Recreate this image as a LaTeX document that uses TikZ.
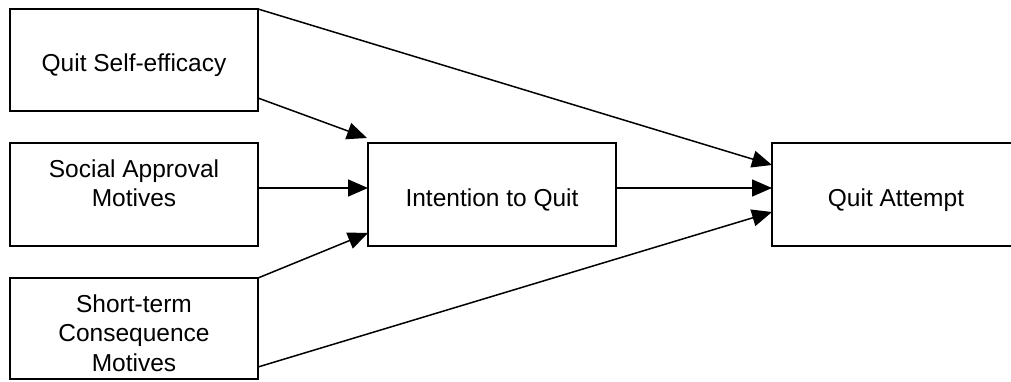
\documentclass[tikz,border=0pt]{standalone}
\usepackage{fontspec}
\setmainfont{Liberation Sans}
\usetikzlibrary{arrows.meta,calc}
\begin{document}
\begin{tikzpicture}[x=1pt,y=-1pt,
  box/.style={draw, line width=1.5pt, inner sep=0pt, outer sep=0pt, minimum width=248pt},
  lbl/.style={font=\fontsize{24.5}{29.5}\selectfont, align=center, inner sep=0pt},
  conn/.style={line width=1.5pt, -{Triangle[length=20pt,width=17pt]}}]
\useasboundingbox (0,0) rectangle (1011,382);
\fill[white] (0,0) rectangle (1011,382);
% boxes
\node[box, minimum height=102pt] (qse) at (134,60) {};
\node[box, minimum height=103pt] (sa) at (134,194.5) {};
\node[box, minimum height=101pt] (st) at (134,328.5) {};
\node[box, minimum height=103pt] (it) at (492,194.5) {};
\node[box, minimum height=103pt] (qa) at (896,194.5) {};
% texts
\node[lbl, anchor=base] (qset) at (134,72) {Quit Self-efficacy};
\node[lbl] (sat) at (134,183) {Social Approval\\Motives};
\node[lbl] (stt) at (134,333) {Short-term\\Consequence\\Motives};
\node[lbl, anchor=base] (itt) at (492,207) {Intention to Quit};
\node[lbl, anchor=base] (qat) at (896,207) {Quit Attempt};
% connectors
\draw[conn] (qse.north east) -- ($(qa.west)+(0,-29.5)$);
\draw[conn] ($(qse.south east)+(0,-13)$) -- ($(it.north west)+(-1,-5)$);
\draw[conn] ($(sa.east)+(0,-6.5)$) -- ($(it.west)+(0,-6.5)$);
\draw[conn] (st.north east) -- ($(it.south west)+(0,-13)$);
\draw[conn] ($(it.east)+(0,-6.5)$) -- ($(qa.west)+(0,-6.5)$);
\draw[conn] ($(st.south east)+(0,-12)$) -- ($(qa.west)+(0,17.5)$);
\end{tikzpicture}
\end{document}
